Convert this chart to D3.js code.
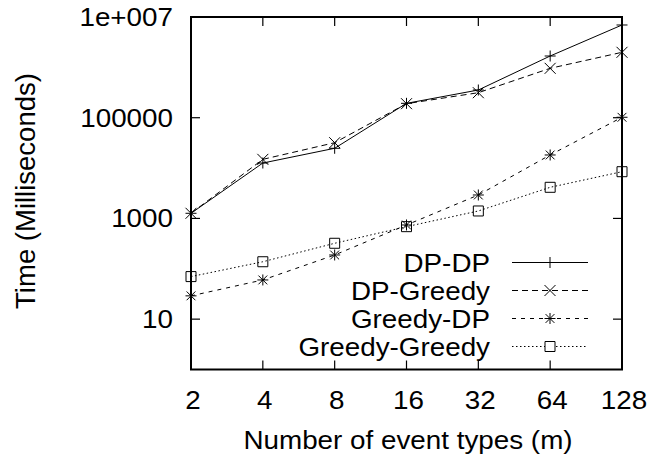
<!DOCTYPE html>
<html>
<head>
<meta charset="utf-8">
<script src="https://cdn.jsdelivr.net/npm/d3@7"></script>
<style>
  body { margin: 0; background: #fff; }
  text { font-family: "Liberation Sans", Arial, sans-serif; fill: #000; }
</style>
</head>
<body>
<div id="chart"></div>
<script>
// Data
const eventTypes = [2, 4, 8, 16, 32, 64, 128];
const dpDp = [1265, 12600, 24700, 193000, 355000, 1680000, 6940000];
const dpGreedy = [1265, 14900, 31900, 190000, 314000, 957000, 1990000];
const greedyDp = [29, 60, 188, 741, 2920, 18200, 102000];
const greedyGreedy = [70, 138, 321, 686, 1406, 4150, 8470];
const yTickValues = [10, 1000, 100000, 10000000];
const seriesNames = ['DP-DP', 'DP-Greedy', 'Greedy-DP', 'Greedy-Greedy'];

// Chart dimensions
const margin = { top: 17, right: 29, bottom: 90.5, left: 191 };
const width = 651 - margin.left - margin.right;
const height = 460 - margin.top - margin.bottom;
const fontSize = 26;
const stretch = 1.07; // reference text is a little wide

const svg = d3
  .select('#chart')
  .append('svg')
  .attr('width', 651)
  .attr('height', 460);

const g = svg
  .append('g')
  .attr('transform', `translate(${margin.left}, ${margin.top})`);

// Scales
const x = d3.scaleLog().base(2).domain([2, 128]).range([0, width]);
const y = d3.scaleLog().domain([1, 1e7]).range([height, 0]);

const yFormat = (v) => (v >= 1e7 ? '1e+007' : String(v));

// horizontal label helper
const label = (parent, tx, ty, anchor, str) =>
  parent
    .append('text')
    .attr('transform', `translate(${tx}, ${ty}) scale(${stretch}, 1)`)
    .attr('text-anchor', anchor)
    .style('font-size', `${fontSize}px`)
    .text(str);

// Marker path builders
const markers = {
  plus: (s) => `M${-s},0H${s}M0,${-s}V${s}`,
  cross: (s) => `M${-s},${-s}L${s},${s}M${-s},${s}L${s},${-s}`,
  star: (s) =>
    `M${-s},0H${s}M0,${-s}V${s}M${-s * 0.8},${-s * 0.8}L${s * 0.8},${s * 0.8}M${-s * 0.8},${s * 0.8}L${s * 0.8},${-s * 0.8}`,
  square: (s) => `M${-s},${-s}H${s}V${s}H${-s}Z`,
};

const series = [
  { name: seriesNames[0], values: dpDp, dash: null, marker: 'plus', size: 5.5 },
  { name: seriesNames[1], values: dpGreedy, dash: '6,4', marker: 'cross', size: 5.5 },
  { name: seriesNames[2], values: greedyDp, dash: '4,5', marker: 'star', size: 5.5 },
  { name: seriesNames[3], values: greedyGreedy, dash: '1.5,2.5', marker: 'square', size: 5 },
];

// Tick marks (inward, mirrored)
const tickLen = 9;
eventTypes.forEach((t) => {
  g.append('line')
    .attr('x1', x(t)).attr('x2', x(t))
    .attr('y1', height).attr('y2', height - tickLen)
    .attr('stroke', '#000').attr('stroke-width', 1.2);
  g.append('line')
    .attr('x1', x(t)).attr('x2', x(t))
    .attr('y1', 0).attr('y2', tickLen)
    .attr('stroke', '#000').attr('stroke-width', 1.2);
  label(g, x(t) + 2, height + 39, 'middle', t);
});

yTickValues.forEach((v) => {
  g.append('line')
    .attr('x1', 0).attr('x2', tickLen)
    .attr('y1', y(v)).attr('y2', y(v))
    .attr('stroke', '#000').attr('stroke-width', 1.2);
  g.append('line')
    .attr('x1', width).attr('x2', width - tickLen)
    .attr('y1', y(v)).attr('y2', y(v))
    .attr('stroke', '#000').attr('stroke-width', 1.2);
  label(g, -18, y(v) + 9, 'end', yFormat(v));
});

// Data lines and markers
const line = d3
  .line()
  .x((d, i) => x(eventTypes[i]))
  .y((d) => y(d));

series.forEach((s) => {
  g.append('path')
    .datum(s.values)
    .attr('d', line)
    .attr('fill', 'none')
    .attr('stroke', '#000')
    .attr('stroke-width', 1)
    .attr('stroke-dasharray', s.dash);
  g.selectAll(null)
    .data(s.values)
    .enter()
    .append('path')
    .attr('transform', (d, i) => `translate(${x(eventTypes[i])}, ${y(d)})`)
    .attr('d', markers[s.marker](s.size))
    .attr('fill', 'none')
    .attr('stroke', '#000')
    .attr('stroke-width', 1);
});

// Legend
const legend = svg.append('g').attr('id', 'legend');
series.forEach((s, i) => {
  const ly = 262.5 + i * 28;
  label(legend, 490, ly + 9, 'end', s.name);
  legend
    .append('line')
    .attr('x1', 512).attr('x2', 588)
    .attr('y1', ly).attr('y2', ly)
    .attr('stroke', '#000')
    .attr('stroke-width', 1)
    .attr('stroke-dasharray', s.dash);
  legend
    .append('path')
    .attr('transform', `translate(550, ${ly})`)
    .attr('d', markers[s.marker](s.size))
    .attr('fill', s.marker === 'square' ? '#fff' : 'none')
    .attr('stroke', '#000')
    .attr('stroke-width', 1);
});

// Frame
g.append('rect')
  .attr('x', 0)
  .attr('y', 0)
  .attr('width', width)
  .attr('height', height)
  .attr('fill', 'none')
  .attr('stroke', '#000')
  .attr('stroke-width', 2);

// Axis titles
label(svg, 408, 449, 'middle', 'Number of event types (m)');

svg
  .append('text')
  .attr('transform', 'translate(35, 191) rotate(-90)')
  .attr('text-anchor', 'middle')
  .style('font-size', '27.5px')
  .text('Time (Milliseconds)');
</script>
</body>
</html>
